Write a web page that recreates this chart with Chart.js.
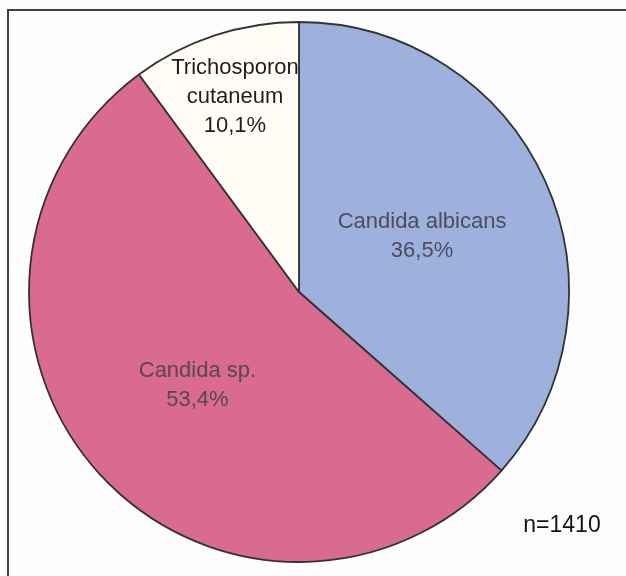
<!DOCTYPE html>
<html lang="pt-br">
<head>
    <meta charset="UTF-8">
    <title>Leveduras isoladas</title>
    <script src="https://cdn.jsdelivr.net/npm/chart.js"></script>
    <style>
        html, body { margin: 0; padding: 0; background: #fdfdfd; overflow: hidden; }
        .moldura {
            position: absolute; left: 7px; top: 9px;
            width: 660px; height: 620px;
            border: 2px solid #404040;
        }
        .grafico { position: absolute; left: 0; top: 0; width: 626px; height: 576px; }
    </style>
</head>
<body>
    <div class="moldura"></div>
    <div class="grafico">
        <canvas id="chartLeveduras" width="626" height="576"></canvas>
    </div>

<script>
// Espécies e percentuais (%)
const especies = ['Candida albicans', 'Candida sp.', 'Trichosporon cutaneum'];
const rotulos = [['Candida albicans', '36,5%'], ['Candida sp.', '53,4%'], ['Trichosporon', 'cutaneum', '10,1%']];
const percentuais = [36.5, 53.4, 10.1];
const totalAmostras = 'n=1410';

const cores = ['#9eb1dd', '#d96a90', '#fffdf6'];

// escreve os rótulos dentro de cada fatia
const rotulosPlugin = {
    id: 'rotulosFatias',
    afterDatasetsDraw(chart, args, opts) {
        const ctx = chart.ctx;
        const meta = chart.getDatasetMeta(0);
        ctx.save();
        ctx.font = '22px "Liberation Sans", Arial, sans-serif';
        ctx.textAlign = 'center';
        ctx.textBaseline = 'middle';
        meta.data.forEach(function (arco, i) {
            const meio = (arco.startAngle + arco.endAngle) / 2;
            const r = arco.outerRadius * opts.distancia[i];
            const x = arco.x + Math.cos(meio) * r;
            const y = arco.y + Math.sin(meio) * r;
            const linhas = rotulos[i];
            ctx.fillStyle = opts.cores[i];
            linhas.forEach(function (txt, j) {
                ctx.fillText(txt, x, y + (j - (linhas.length - 1) / 2) * 29);
            });
        });
        ctx.font = '23px "Liberation Sans", Arial, sans-serif';
        ctx.fillStyle = '#141414';
        ctx.fillText(totalAmostras, 562, 526);
        ctx.restore();
    }
};

const data = {
    labels: especies,
    datasets: [{
        data: percentuais,
        backgroundColor: cores,
        borderColor: '#333333',
        borderWidth: 1.8
    }]
};

const config = {
    type: 'pie',
    data: data,
    options: {
        responsive: false,
        animation: false,
        radius: 270,
        layout: {
            padding: { left: 0, right: 28, top: 8, bottom: 0 }
        },
        plugins: {
            legend: { display: false },
            tooltip: { enabled: false },
            rotulosFatias: {
                distancia: [0.5, 0.51, 0.76],
                cores: ['#4b4d5c', '#5a4654', '#1e1e1e']
            }
        }
    },
    plugins: [rotulosPlugin]
};

const myChart = new Chart(document.getElementById('chartLeveduras'), config);
</script>
</body>
</html>
